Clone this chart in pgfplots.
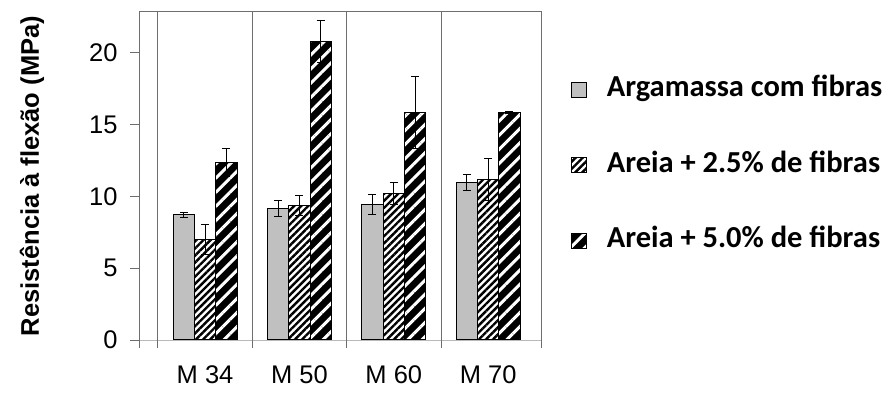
\documentclass[border=0pt]{standalone}
\usepackage{pgfplots}
\pgfplotsset{compat=1.18}
\usetikzlibrary{patterns.meta}
\usepackage{fontspec}
\setmainfont{Liberation Sans}
\newfontfamily\legendfont{Carlito}
\definecolor{barGrey}{RGB}{192,192,192}
\definecolor{frameGrey}{RGB}{110,110,110}
\pgfplotsset{sqlegend/.style={legend image code/.code={\draw[##1, line width=0.8pt] (0pt,-7.5pt) rectangle (15pt,7.5pt);}}}
\begin{document}
\begin{tikzpicture}
\useasboundingbox (0,0) rectangle (893pt,394pt);
\begin{axis}[
  at={(139pt,46pt)}, anchor=south west,
  scale only axis, width=402pt, height=337pt,
  xmin=-0.70, xmax=3.56, ymin=-0.56, ymax=22.9,
  ybar=0pt, bar width=21.3pt,
  axis line style={draw=none},
  xtick={0,1,2,3}, xticklabels={M 34, M 50, M 60, M 70},
  x tick style={draw=none},
  xticklabel style={yshift=-5pt},
  yticklabel style={xshift=-9pt},
  ytick={0,5,10,15,20},
  ytick pos=left,
  y tick style={frameGrey, line width=0.8pt},
  tick align=outside, major tick length=9pt,
  ticklabel style={font=\fontsize{25.5}{30}\selectfont},
  /pgf/number format/assume math mode=true,
  ylabel={Resistência à flexão (MPa)},
  ylabel style={font=\bfseries\fontsize{25.5}{30}\selectfont, at={(axis description cs:-0.266,0.51)}, anchor=center},
  clip=false,
  legend style={at={(axis description cs:1.0746,0.543)}, anchor=west, draw=none, fill=none,
    inner sep=0pt, outer sep=0pt, row sep=47.5pt,
    font=\fontsize{30.5}{34}\legendfont\bfseries,
    nodes={inner sep=1pt, text height=20pt, text depth=6pt},
    /tikz/every odd column/.append style={column sep=19pt}},
  legend cell align=left,
  error bars/y dir=both, error bars/y explicit,
  error bars/error bar style={black, line width=0.9pt},
  error bars/error mark options={rotate=90, mark size=4pt, black, line width=0.9pt},
]
\draw[gray!55, line width=0.8pt] (axis cs:-0.70,0) -- (axis cs:3.56,0);
\addplot[draw=black, line width=1pt, fill=barGrey, sqlegend]
  coordinates {(0,8.70) +- (0,0.20) (1,9.15) +- (0,0.55) (2,9.43) +- (0,0.67) (3,10.96) +- (0,0.55)};
\addlegendentry{Argamassa com fibras}
\addplot[draw=black, line width=1pt, fill=white,
  postaction={pattern={Lines[angle=45,distance=5pt,line width=2.4pt]}, pattern color=black}, sqlegend]
  coordinates {(0,6.97) +- (0,1.05) (1,9.36) +- (0,0.67) (2,10.22) +- (0,0.77) (3,11.15) +- (0,1.46)};
\addlegendentry{Areia + 2.5\% de fibras}
\addplot[draw=black, line width=1pt, fill=black,
  postaction={pattern={Lines[angle=45,distance=10pt,line width=3pt]}, pattern color=white}, sqlegend]
  coordinates {(0,12.36) +- (0,1.00) (1,20.77) +- (0,1.48) (2,15.84) +- (0,2.50) (3,15.86) +- (0,0.07)};
\addlegendentry{Areia + 5.0\% de fibras}
\draw[frameGrey, line width=0.9pt] (axis cs:-0.70,-0.56) -- (axis cs:-0.70,22.9) -- (axis cs:3.56,22.9) -- (axis cs:3.56,-0.56);
\draw[frameGrey, line width=0.8pt] (axis cs:-0.5,-0.56) -- (axis cs:-0.5,22.9);
\draw[frameGrey, line width=0.8pt] (axis cs:0.5,-0.56) -- (axis cs:0.5,22.9);
\draw[frameGrey, line width=0.8pt] (axis cs:1.5,-0.56) -- (axis cs:1.5,22.9);
\draw[frameGrey, line width=0.8pt] (axis cs:2.5,-0.56) -- (axis cs:2.5,22.9);
\end{axis}
\end{tikzpicture}
\end{document}
